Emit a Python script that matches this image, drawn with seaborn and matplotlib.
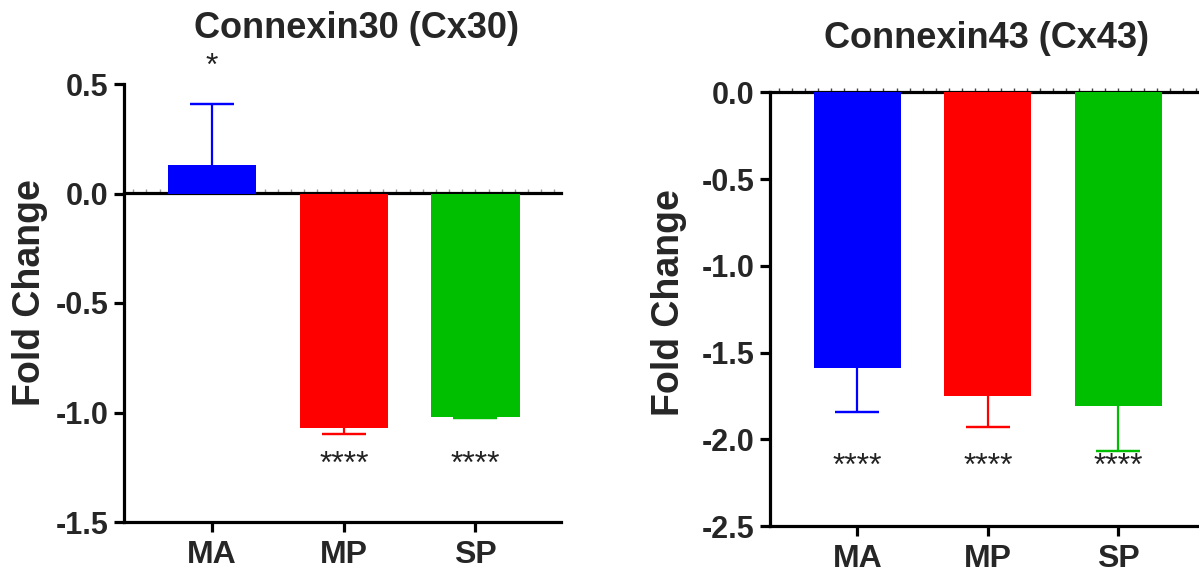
import matplotlib
matplotlib.use("Agg")
import matplotlib.pyplot as plt
import seaborn as sns
import pandas as pd
import numpy as np

# ---- data ----
groups = ["MA", "MP", "SP"]
colors = ["#0000FF", "#FF0000", "#00BF00"]

cx30_mean = [0.13, -1.07, -1.02]
cx30_sd = [0.28, 0.03, 0.006]
cx30_sig = ["*", "****", "****"]
cx30_sig_y = [0.58, -1.24, -1.24]

cx43_mean = [-1.59, -1.75, -1.81]
cx43_sd = [0.25, 0.18, 0.26]
cx43_sig = ["****", "****", "****"]
cx43_sig_y = [-2.16, -2.16, -2.16]

sns.set_style("white")
plt.rcParams["font.family"] = ["Liberation Sans", "DejaVu Sans"]

W, H = 1199, 577
fig = plt.figure(figsize=(W / 100, H / 100), dpi=100)

def px_axes(x0, x1, ytop, ybot):
    return fig.add_axes([x0 / W, (H - ybot) / H, (x1 - x0) / W, (ybot - ytop) / H])

LW = 2.3

def panel(ax, means, sds, sig, sig_y, ylim, yticks, zero_top):
    df = pd.DataFrame({"group": groups, "value": means})
    sns.barplot(data=df, x="group", y="value", hue="group", palette=colors,
                order=groups, hue_order=groups, width=0.67, errorbar=None,
                legend=False, ax=ax, saturation=1, linewidth=0)
    for i, (m, s, c) in enumerate(zip(means, sds, colors)):
        yerr = [[0], [s]] if m >= 0 else [[s], [0]]
        end = m + s if m >= 0 else m - s
        # stem (one-sided, away from zero)
        ax.errorbar([i], [m], yerr=yerr, fmt="none", ecolor=c, elinewidth=1.6,
                    capsize=0, zorder=1)
        # cap only at the outer end
        ax.errorbar([i], [end], yerr=[[0], [0]], fmt="none", ecolor=c,
                    elinewidth=0, capsize=15.5, capthick=1.6, zorder=1)
    for i, (t, yy) in enumerate(zip(sig, sig_y)):
        ax.text(i, yy, t, ha="center", va="center", fontsize=23, color="#222222")
    ax.set_xlim(-0.67, 2.65)
    ax.set_ylim(*ylim)
    ax.set_yticks(yticks)
    ax.set_yticklabels([f"{v:.1f}" for v in yticks])
    ax.set_xlabel("")
    ax.set_ylabel("Fold Change", fontsize=27, fontweight="bold")
    for lab in ax.get_yticklabels():
        lab.set_fontweight("bold"); lab.set_fontsize(22)
    for lab in ax.get_xticklabels():
        lab.set_fontweight("bold"); lab.set_fontsize(23)
    ax.tick_params(axis="both", which="major", direction="out", length=7,
                   width=LW, color="black", left=True, bottom=True)
    ax.tick_params(axis="y", pad=4)
    ax.tick_params(axis="x", pad=6)
    for side in ["right", "top"]:
        ax.spines[side].set_visible(False)
    for side in ["left", "bottom"]:
        ax.spines[side].set_linewidth(LW)
        ax.spines[side].set_color("black")
    # zero line with small ticks above it
    loc = (0 - ylim[0]) / (ylim[1] - ylim[0])
    sec = ax.secondary_xaxis(loc)
    sec.spines["top"].set_linewidth(LW)
    sec.spines["top"].set_color("black")
    sec.set_xticks(np.arange(-0.6, 2.66, 0.1))
    sec.tick_params(axis="x", length=3, width=1.0,
                    color="#444444" if zero_top else "#999999",
                    labeltop=False, direction="out")
    sec.set_xticklabels([])

ax1 = px_axes(124, 561, 84, 522)
panel(ax1, cx30_mean, cx30_sd, cx30_sig, cx30_sig_y, (-1.5, 0.5),
      [0.5, 0.0, -0.5, -1.0, -1.5], False)
ax1.yaxis.set_label_coords(-0.174, 0.524)

ax2 = px_axes(770, 1203, 92.3, 526)
panel(ax2, cx43_mean, cx43_sd, cx43_sig, cx43_sig_y, (-2.5, 0.0),
      [0.0, -0.5, -1.0, -1.5, -2.0, -2.5], True)
ax2.yaxis.set_label_coords(-0.191, 0.516)

fig.text(357 / W, 1 - 29 / H, "Connexin30 (Cx30)", ha="center", va="center",
         fontsize=26, fontweight="bold")
fig.text(987 / W, 1 - 38 / H, "Connexin43 (Cx43)", ha="center", va="center",
         fontsize=26, fontweight="bold")

fig.savefig("out.png", dpi=100)
